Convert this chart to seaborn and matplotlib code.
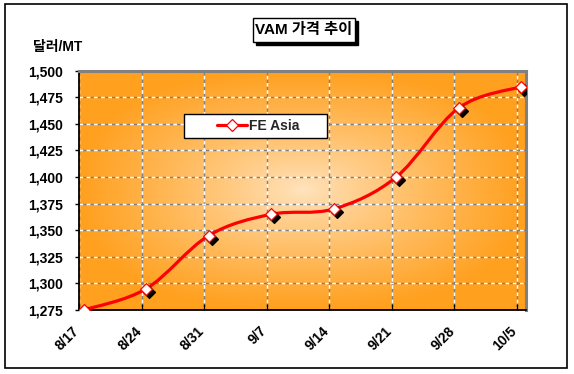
import numpy as np
import pandas as pd
import matplotlib
matplotlib.use("Agg")
import matplotlib.pyplot as plt
import matplotlib.dates as mdates
import matplotlib.transforms as mtransforms
from matplotlib.path import Path
from matplotlib.patches import PathPatch, Rectangle
from matplotlib.lines import Line2D
from matplotlib.legend_handler import HandlerLine2D
import seaborn as sns

# ---------------- data ----------------
title = "VAM 가격 추이"
y_unit = "달러/MT"
series_name = "FE Asia"
dates = ["2007-08-17", "2007-08-24", "2007-08-31", "2007-09-07",
         "2007-09-14", "2007-09-21", "2007-09-28", "2007-10-05"]
tick_labels = ["8/17", "8/24", "8/31", "9/7", "9/14", "9/21", "9/28", "10/5"]
prices = [1275, 1295, 1345, 1365, 1370, 1400, 1465, 1485]
y_ticks = [1275, 1300, 1325, 1350, 1375, 1400, 1425, 1450, 1475, 1500]
x_end = "2007-10-06"

# ---------------- style ----------------
sns.set_theme(style="white")
plt.rcParams["font.family"] = ["Liberation Sans", "Noto Sans CJK KR", "DejaVu Sans"]
plt.rcParams["font.weight"] = "bold"

W, H = 574, 374
fig = plt.figure(figsize=(W / 100, H / 100), dpi=100)
fig.patch.set_facecolor("white")


def fx(px):
    return px / W


def fy(py):
    return 1 - py / H


L, R, T, B = 79.3, 525.7, 70.7, 310.0
ax = fig.add_axes([fx(L), fy(B), (R - L) / W, (B - T) / H])

# outer frame
fig.patches.append(Rectangle((fx(5), fy(368)), (567 - 5) / W, (368 - 4) / H,
                             transform=fig.transFigure, fill=False,
                             ec="black", lw=1.2, zorder=0))

# radial gradient background
nx, ny = 400, 260
gx, gy = np.meshgrid(np.linspace(-1, 1, nx), np.linspace(-1, 1, ny))
r = (np.abs(gx) ** 2.5 + np.abs(gy) ** 2.5) ** (1 / 2.5)
t = np.clip(r, 0, 1) ** 0.85
c_center = np.array([255, 228, 192]) / 255
c_edge = np.array([255, 160, 30]) / 255
img = c_center[None, None, :] + (c_edge - c_center)[None, None, :] * t[..., None]
ax.imshow(img, extent=(0, 1, 0, 1), transform=ax.transAxes, aspect="auto",
          zorder=0, interpolation="bilinear", origin="lower")

# x positions (Excel centres points in the day unit)
d = pd.to_datetime(dates)
tick_pos = mdates.date2num(d)
xpos = tick_pos + 0.5
ys = np.array(prices, dtype=float)

# smooth (Catmull-Rom / Excel style) curve
P = np.column_stack([xpos, ys])
n = len(P)
verts = [P[0]]
codes = [Path.MOVETO]
for i in range(n - 1):
    p0 = P[i - 1] if i > 0 else P[i]
    p3 = P[i + 2] if i + 2 < n else P[i + 1]
    c1 = P[i] + (P[i + 1] - p0) / 6
    c2 = P[i + 1] - (p3 - P[i]) / 6
    verts += [c1, c2, P[i + 1]]
    codes += [Path.CURVE4] * 3
ax.add_patch(PathPatch(Path(verts, codes), fc="none", ec="#FF0000", lw=2.3,
                       zorder=3, capstyle="round", joinstyle="round"))

# marker shadows and markers
shadow_tr = mtransforms.offset_copy(ax.transData, fig=fig, x=2.2, y=-2.2, units="points")
sns.scatterplot(x=xpos, y=ys, marker="D", s=36, color="black", edgecolor="black",
                linewidth=1.0, transform=shadow_tr, zorder=4, ax=ax, legend=False)
sns.scatterplot(x=xpos, y=ys, marker="D", s=36, color="white", edgecolor="#FF0000",
                linewidth=0.9, zorder=5, ax=ax, legend=False)

# axes limits / ticks
ax.set_xlim(tick_pos[0], mdates.date2num(pd.Timestamp(x_end)))
ax.set_ylim(y_ticks[0], y_ticks[-1])
ax.set_xticks(tick_pos)
ax.set_xticklabels(tick_labels, rotation=45, ha="right", rotation_mode="anchor",
                   fontsize=10, fontweight="bold", color="black")
ax.set_yticks(y_ticks)
ax.set_yticklabels([f"{v:,}" for v in y_ticks], fontsize=10, fontweight="bold",
                   color="black")
ax.tick_params(axis="x", bottom=True, direction="in", length=4, width=1,
               color="black", pad=9)
ax.tick_params(axis="y", left=True, direction="out", length=3, width=1,
               color="black", pad=9)
lab_shift = mtransforms.ScaledTranslation(-5 / 72, -1 / 72, fig.dpi_scale_trans)
for lab in ax.get_xticklabels():
    lab.set_transform(lab.get_transform() + lab_shift)

ax.set_axisbelow(True)
ax.grid(True, color="white", linestyle=(0, (2.6, 2.6)), gapcolor="#808080",
        linewidth=1.0)

for s in ["left", "bottom"]:
    ax.spines[s].set(color="black", lw=1.3, visible=True)
for s in ["top", "right"]:
    ax.spines[s].set(color="#808080", lw=2.2, visible=True)
ax.set_xlabel("")
ax.set_ylabel("")

# legend
proxy = Line2D([], [], color="#FF0000", lw=2.3, marker="D", markersize=5.8,
               mfc="white", mec="#FF0000", mew=0.9)
leg = fig.legend(handles=[proxy], labels=[series_name + "      "], loc="upper left",
                 bbox_to_anchor=(fx(184.3), fy(114.3)), bbox_transform=fig.transFigure,
                 borderaxespad=0, frameon=True, fancybox=False, edgecolor="black",
                 framealpha=1, prop={"size": 10, "weight": "bold"},
                 handlelength=4.2, handletextpad=0.1, borderpad=0.35,
                 handler_map={Line2D: HandlerLine2D(xpad=2.0)})
leg.get_frame().set_linewidth(1.0)

# title box with shadow
bx0, by0, bx1, by1 = 252.7, 17.5, 354.5, 41.8
fig.patches.append(Rectangle((fx(bx0 + 3), fy(by1 + 3)), (bx1 - bx0) / W, (by1 - by0) / H,
                             transform=fig.transFigure, fc="black", ec="black",
                             lw=1, zorder=1))
fig.patches.append(Rectangle((fx(bx0), fy(by1)), (bx1 - bx0) / W, (by1 - by0) / H,
                             transform=fig.transFigure, fc="white", ec="black",
                             lw=1, zorder=2))
fig.text(fx((bx0 + bx1) / 2), fy((by0 + by1) / 2), title, ha="center", va="center",
         fontsize=11, fontweight="bold", color="black", zorder=3)

# y unit label
fig.text(fx(33), fy(47), y_unit, ha="left", va="center", fontsize=10,
         fontweight="bold", color="black")

fig.savefig("out.png", dpi=100)
